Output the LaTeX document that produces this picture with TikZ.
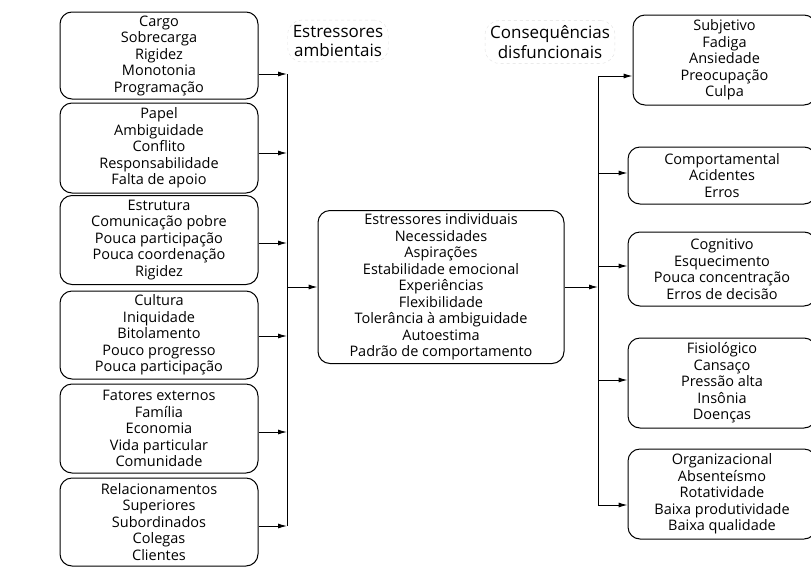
\documentclass[tikz,border=0pt]{standalone}
\usepackage{fontspec}
\setmainfont{Open Sans}
\usetikzlibrary{positioning,arrows.meta,calc}

\begin{document}
\begin{tikzpicture}[
    x=1pt, y=-1pt,
    lbox/.style={rectangle, rounded corners=12pt, draw, line width=1pt, minimum width=198pt, align=center, inner sep=0pt, font=\fontsize{14.5}{16.5}\selectfont},
    rbox/.style={lbox, minimum width=188pt},
    title/.style={rectangle, rounded corners=14pt, draw=gray!25, dashed, align=center, inner sep=5pt, font=\fontsize{17}{19.5}\selectfont},
    arrow/.style={-{Latex[length=9pt, width=5pt]}, line width=1pt},
    bus/.style={line width=1pt},
]

\useasboundingbox (0,0) rectangle (811,568);
\clip (0,0) rectangle (811,568);

% ====== Titles ======
\node[title] (amb) at (338, 41) {Estressores\\ambientais};
\node[title] (disf) at (550, 42) {Consequências\\disfuncionais};

% ====== Environmental stressors ======
\node[lbox, minimum height=87pt] (cargo) at (159, 55.5) {Cargo\\Sobrecarga\\Rigidez\\Monotonia\\Programação};
\node[lbox, minimum height=90pt] (papel) at (159, 148) {Papel\\Ambiguidade\\Conflito\\Responsabilidade\\Falta de apoio};
\node[lbox, minimum height=89pt] (estrut) at (159, 240) {Estrutura\\Comunicação pobre\\Pouca participação\\Pouca coordenação\\Rigidez};
\node[lbox, minimum height=88pt] (cult) at (159, 335) {Cultura\\Iniquidade\\Bitolamento\\Pouco progresso\\Pouca participação};
\node[lbox, minimum height=89pt] (fator) at (159, 428.5) {Fatores externos\\Família\\Economia\\Vida particular\\Comunidade};
\node[lbox, minimum height=88pt] (relac) at (159, 522) {Relacionamentos\\Superiores\\Subordinados\\Colegas\\Clientes};

% bus points
\coordinate (b1) at (287, 74);
\coordinate (b2) at (287, 153);
\coordinate (b3) at (287, 243);
\coordinate (b4) at (287, 336);
\coordinate (b5) at (287, 432);
\coordinate (b6) at (287, 526);

\draw[arrow] (cargo.east |- b1) -- (b1);
\draw[arrow] (papel.east |- b2) -- (b2);
\draw[arrow] (estrut.east |- b3) -- (b3);
\draw[arrow] (cult.east |- b4) -- (b4);
\draw[arrow] (fator.east |- b5) -- (b5);
\draw[arrow] (relac.east |- b6) -- (b6);
\draw[bus] (b1) -- (b6);

% ====== Individual stressors ======
\node[lbox, minimum width=246pt, minimum height=153pt] (indiv) at (441, 287) {Estressores individuais\\Necessidades\\Aspirações\\Estabilidade emocional\\Experiências\\Flexibilidade\\Tolerância à ambiguidade\\Autoestima\\Padrão de comportamento};
\draw[arrow] (b1 |- indiv) -- (indiv.west);

% ====== Consequences ======
\node[rbox, minimum height=90pt, minimum width=183pt] (subj) at (724.5, 60) {Subjetivo\\Fadiga\\Ansiedade\\Preocupação\\Culpa};
\node[rbox, minimum height=57pt] (comp) at (722, 175.5) {Comportamental\\Acidentes\\Erros};
\node[rbox, minimum height=74pt] (cogn) at (722, 269) {Cognitivo\\Esquecimento\\Pouca concentração\\Erros de decisão};
\node[rbox, minimum height=90pt] (fisio) at (722, 383) {Fisiológico\\Cansaço\\Pressão alta\\Insônia\\Doenças};
\node[rbox, minimum height=90pt] (organ) at (722, 494) {Organizacional\\Absenteísmo\\Rotatividade\\Baixa produtividade\\Baixa qualidade};

\coordinate (c1) at (598, 76);
\coordinate (c2) at (598, 173);
\coordinate (c3) at (598, 266);
\coordinate (c4) at (598, 380);
\coordinate (c5) at (598, 505);

\draw[arrow] (indiv.east) -- (indiv.east -| c1);
\draw[bus] (c1) -- (c5);
\draw[arrow] (c1) -- (subj.west |- c1);
\draw[arrow] (c2) -- (comp.west |- c2);
\draw[arrow] (c3) -- (cogn.west |- c3);
\draw[arrow] (c4) -- (fisio.west |- c4);
\draw[arrow] (c5) -- (organ.west |- c5);

\end{tikzpicture}
\end{document}
